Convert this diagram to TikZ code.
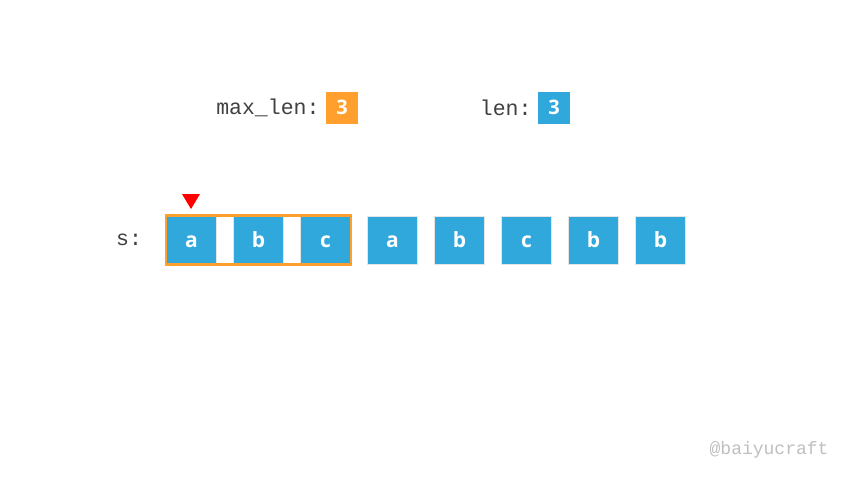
\documentclass[tikz,border=0pt]{standalone}
\usepackage{fontspec}
\setmainfont{Open Sans}
\newfontfamily\codefont{Liberation Mono}
\usetikzlibrary{fit}
\definecolor{cellblue}{HTML}{31A8DC}
\definecolor{winorange}{HTML}{FF9F2E}
\tikzset{
  cell/.style={fill=cellblue,draw=black!10,line width=0.6pt,minimum width=50pt,minimum height=48pt,
    inner sep=0pt,text=white,text height=14pt,text depth=0pt,
    font=\fontsize{21}{21}\selectfont\bfseries},
  numbox/.style={minimum size=32pt,inner sep=0pt,text=white,text height=13pt,text depth=0pt,
    font=\fontsize{20}{20}\selectfont\bfseries},
  code/.style={text=black!75,font=\codefont\fontsize{21.5}{21.5}\selectfont}
}
\begin{document}
\begin{tikzpicture}[x=1pt,y=-1pt]
\useasboundingbox (0,0) rectangle (853,480);
% variables
\node[numbox,fill=winorange] (maxbox) at (342,108) {3};
\node[code,anchor=east] (maxlbl) at (323,108) {max\_len:};
\node[numbox,fill=cellblue] (lenbox) at (554,108) {3};
\node[code,anchor=east] (lenlbl) at (535,108) {len:};
% the string
\node[code] (slbl) at (129,240) {s:};
\foreach \ch [count=\i from 0] in {a,b,c,a,b,c,b,b}
  \node[cell] (c\i) at (191.5+67*\i,240) {\ch};
% window
\node[draw=winorange,line width=2.5pt,inner sep=0.3pt,fit=(c0)(c2)] (win) {};
% pointer
\coordinate (tip) at (191,209);
\fill[red] (tip) -- (182,194) -- (200,194) -- cycle;
\node[code,anchor=east,text=black!25,font=\codefont\fontsize{18}{18}\selectfont] (mark) at (832,450) {@baiyucraft};
\end{tikzpicture}
\end{document}
